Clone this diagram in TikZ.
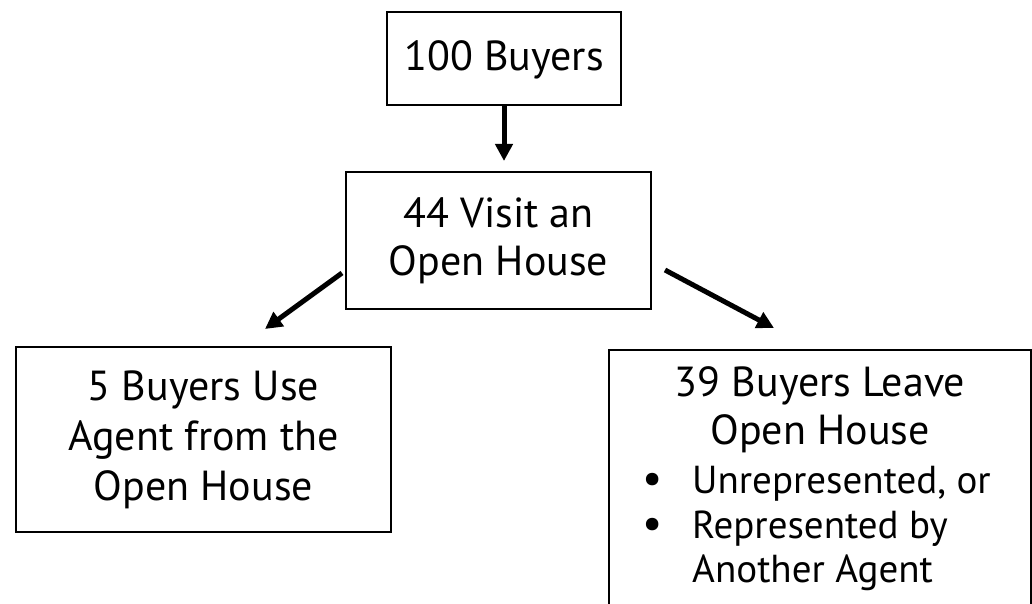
\documentclass[tikz,border=0pt]{standalone}
\usepackage{fontspec}
\setmainfont{PT Sans}
\usetikzlibrary{arrows.meta}
\newcommand{\bigbul}{\scalebox{1.15}{\textbullet}}
\begin{document}
\begin{tikzpicture}[x=1pt,y=-1pt,
  box/.style={draw=black,line width=1.5pt,inner sep=0pt,outer sep=0pt},
  txt/.style={align=center,inner sep=0pt,font=\fontsize{42}{48}\selectfont},
  bul/.style={inner sep=0pt,anchor=base west,font=\fontsize{39}{45}\selectfont},
  arr/.style={line width=5pt,-{Triangle[length=17pt,width=17pt]}}]
\useasboundingbox (0,0) rectangle (1032,604);
\clip (0,0) rectangle (1032,604);
\node[box,minimum width=234pt,minimum height=93pt] (b1) at (504,58.5) {};
\node[txt] (t1) at (504,60) {100 Buyers};
\node[box,minimum width=305pt,minimum height=137pt] (b2) at (498.5,240.5) {};
\node[txt] (t2) at (b2.center) {44 Visit an\\Open House};
\node[box,minimum width=375pt,minimum height=185pt] (b3) at (203.5,439.5) {};
\node[txt,font=\fontsize{42}{50}\selectfont] (t3) at (b3.center) {5 Buyers Use\\Agent from the\\Open House};
\node[box,minimum width=422pt,minimum height=300pt,anchor=north west] (b4) at (609,350) {};
\node[txt,anchor=north] (t4) at (820,366) {39 Buyers Leave\\Open House};
\node[bul] (u1) at (642,493) {\bigbul};
\node[bul] (l1) at (692,493) {Unrepresented, or};
\node[bul] (u2) at (642,538) {\bigbul};
\node[bul] (l2) at (692,538) {Represented by};
\node[bul] (l3) at (692,582) {Another Agent};
\coordinate (a1s) at (504,105);
\coordinate (a1e) at (504,161);
\coordinate (a2s) at (342,273);
\coordinate (a2e) at (265,329);
\coordinate (a3s) at (665,270);
\coordinate (a3e) at (774,328);
\draw[arr] (a1s) -- (a1e);
\draw[arr] (a2s) -- (a2e);
\draw[arr] (a3s) -- (a3e);
\end{tikzpicture}
\end{document}
